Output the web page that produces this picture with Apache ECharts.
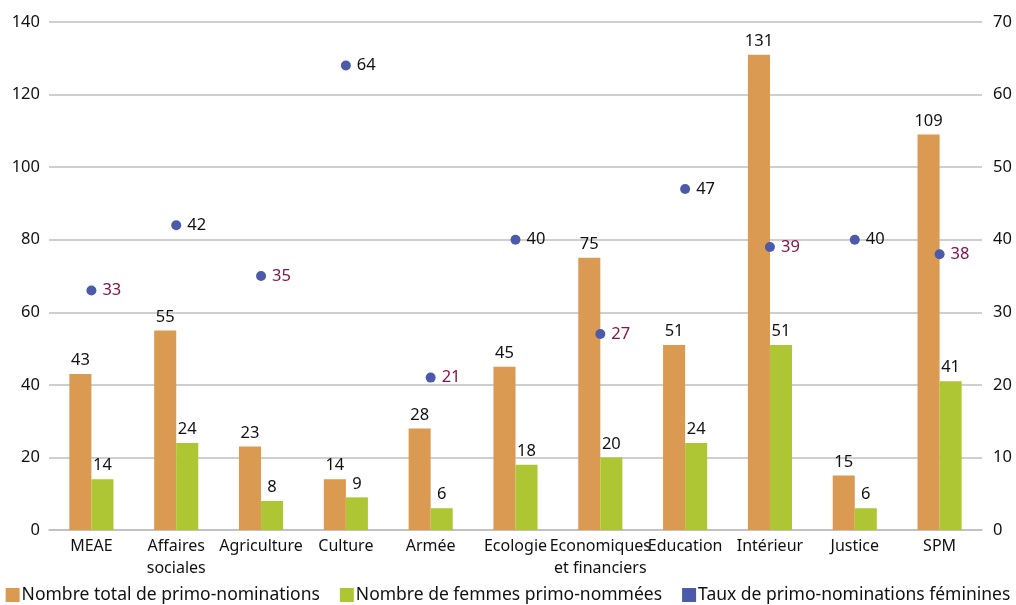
<!DOCTYPE html>
<html><head><meta charset="utf-8">
<script src="https://cdn.jsdelivr.net/npm/echarts@6/dist/echarts.min.js"></script>
<style>html,body{margin:0;padding:0;background:#fff}#c{width:1016px;height:605px}</style>
</head><body><div id="c"></div>
<script>
var categories = ['MEAE','Affaires\nsociales','Agriculture','Culture','Armée','Ecologie','Economiques\net financiers','Education','Intérieur','Justice','SPM'];
var totalNominations = [43,55,23,14,28,45,75,51,131,15,109];
var femmesNommees = [14,24,8,9,6,18,20,24,51,6,41];
var tauxFeminin = [33,42,35,64,21,40,27,47,39,40,38];
var leftTicks = {min:0,max:140,interval:20};
var rightTicks = {min:0,max:70,interval:10};

var font = '"Noto Sans", sans-serif';
var chart = echarts.init(document.getElementById('c'));
chart.setOption({
  animation:false,
  textStyle:{fontFamily:font},
  grid:{left:49,right:34,top:22,bottom:75,containLabel:false},
  legend:{
    bottom:-4,left:'center',itemWidth:14,itemHeight:14,itemGap:20,
    icon:'rect',
    textStyle:{fontSize:17.5,color:'#111',fontFamily:font,padding:[0,0,0,-3]},
    data:['Nombre total de primo-nominations','Nombre de femmes primo-nommées','Taux de primo-nominations féminines']
  },
  xAxis:{
    type:'category',data:categories,
    axisLine:{lineStyle:{color:'#bfbfbf',width:1.5}},
    axisTick:{show:false},
    axisLabel:{fontSize:16,color:'#111',interval:0,lineHeight:22,margin:5,fontFamily:font}
  },
  yAxis:[
    {type:'value',min:leftTicks.min,max:leftTicks.max,interval:leftTicks.interval,
     splitLine:{lineStyle:{color:'#bfbfbf',width:1.5}},
     axisLine:{show:false},axisTick:{show:false},
     axisLabel:{fontSize:16.5,color:'#111',margin:9,fontFamily:font}},
    {type:'value',min:rightTicks.min,max:rightTicks.max,interval:rightTicks.interval,
     splitLine:{show:false},axisLine:{show:false},axisTick:{show:false},
     axisLabel:{fontSize:16.5,color:'#111',margin:11,fontFamily:font}}
  ],
  series:[
    {name:'Nombre total de primo-nominations',type:'bar',data:totalNominations,
     barWidth:'26%',barGap:'0%',itemStyle:{color:'#da9a52'},
     label:{show:true,position:'top',fontSize:16.5,color:'#111',distance:5,fontFamily:font}},
    {name:'Nombre de femmes primo-nommées',type:'bar',data:femmesNommees,
     barWidth:'26%',barGap:'0%',itemStyle:{color:'#afc634'},
     label:{show:true,position:'top',fontSize:16.5,color:'#111',distance:5,fontFamily:font}},
    {name:'Taux de primo-nominations féminines',type:'scatter',yAxisIndex:1,
     data:tauxFeminin.map(function(v){return {value:v,label:{color: v<40 ? '#851650' : '#111'}};}),
     symbol:'circle',symbolSize:10,itemStyle:{color:'#4b5baa',opacity:1},
     label:{show:true,position:'right',fontSize:16.5,distance:6,fontFamily:font}}
  ]
});
</script></body></html>
